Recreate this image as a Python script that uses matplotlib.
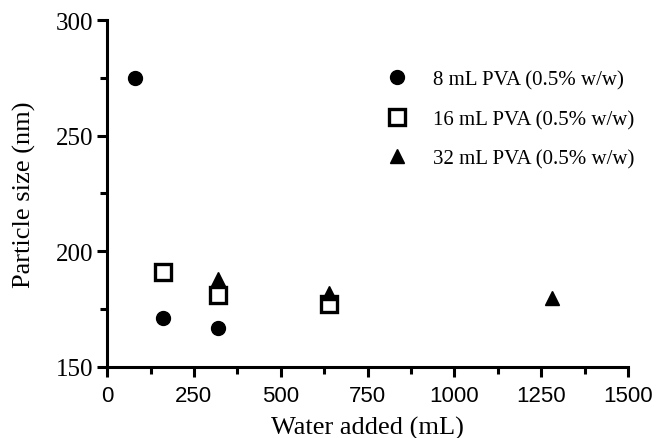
import matplotlib.pyplot as plt
from matplotlib.ticker import MultipleLocator

plt.rcParams['font.family'] = ['Liberation Serif', 'DejaVu Serif']

# data
x_8 = [80, 160, 320]
y_8 = [275, 171, 167]
x_16 = [160, 320, 640]
y_16 = [191, 181, 177]
x_32 = [320, 640, 1280]
y_32 = [188, 182, 180]

fig = plt.figure(figsize=(6.57, 4.39), dpi=100)
ax = fig.add_axes([0.163, 0.162, 0.793, 0.790])

ax.plot(x_8, y_8, 'o', color='black', ms=10, label='8 mL PVA (0.5% w/w)')
ax.plot(x_16, y_16, 's', mfc='white', mec='black', mew=2.4, ms=11,
        label='16 mL PVA (0.5% w/w)')
ax.plot(x_32, y_32, '^', color='black', ms=9.5, label='32 mL PVA (0.5% w/w)')

ax.set_xlim(0, 1500)
ax.set_ylim(150, 300)
ax.xaxis.set_major_locator(MultipleLocator(250))
ax.xaxis.set_minor_locator(MultipleLocator(125))
ax.yaxis.set_major_locator(MultipleLocator(50))
ax.yaxis.set_minor_locator(MultipleLocator(25))

for s in ['top', 'right']:
    ax.spines[s].set_visible(False)
for s in ['left', 'bottom']:
    ax.spines[s].set_linewidth(2.2)
ax.tick_params(which='major', length=7, width=2.2, direction='out')
ax.tick_params(which='minor', length=5, width=2.2, direction='out')
ax.tick_params(axis='y', labelsize=18, pad=3)
ax.tick_params(axis='x', labelsize=16, pad=6)
for lbl in ax.get_xticklabels():
    lbl.set_family('Liberation Sans')

ax.set_xlabel('Water added (mL)', fontsize=19, labelpad=7)
ax.set_ylabel('Particle size (nm)', fontsize=19, labelpad=14)

ax.legend(loc='upper left', bbox_to_anchor=(0.49, 0.91), frameon=False,
          fontsize=15, handletextpad=1.0, labelspacing=0.95, handlelength=1.5)

fig.savefig('out.png', dpi=100)
